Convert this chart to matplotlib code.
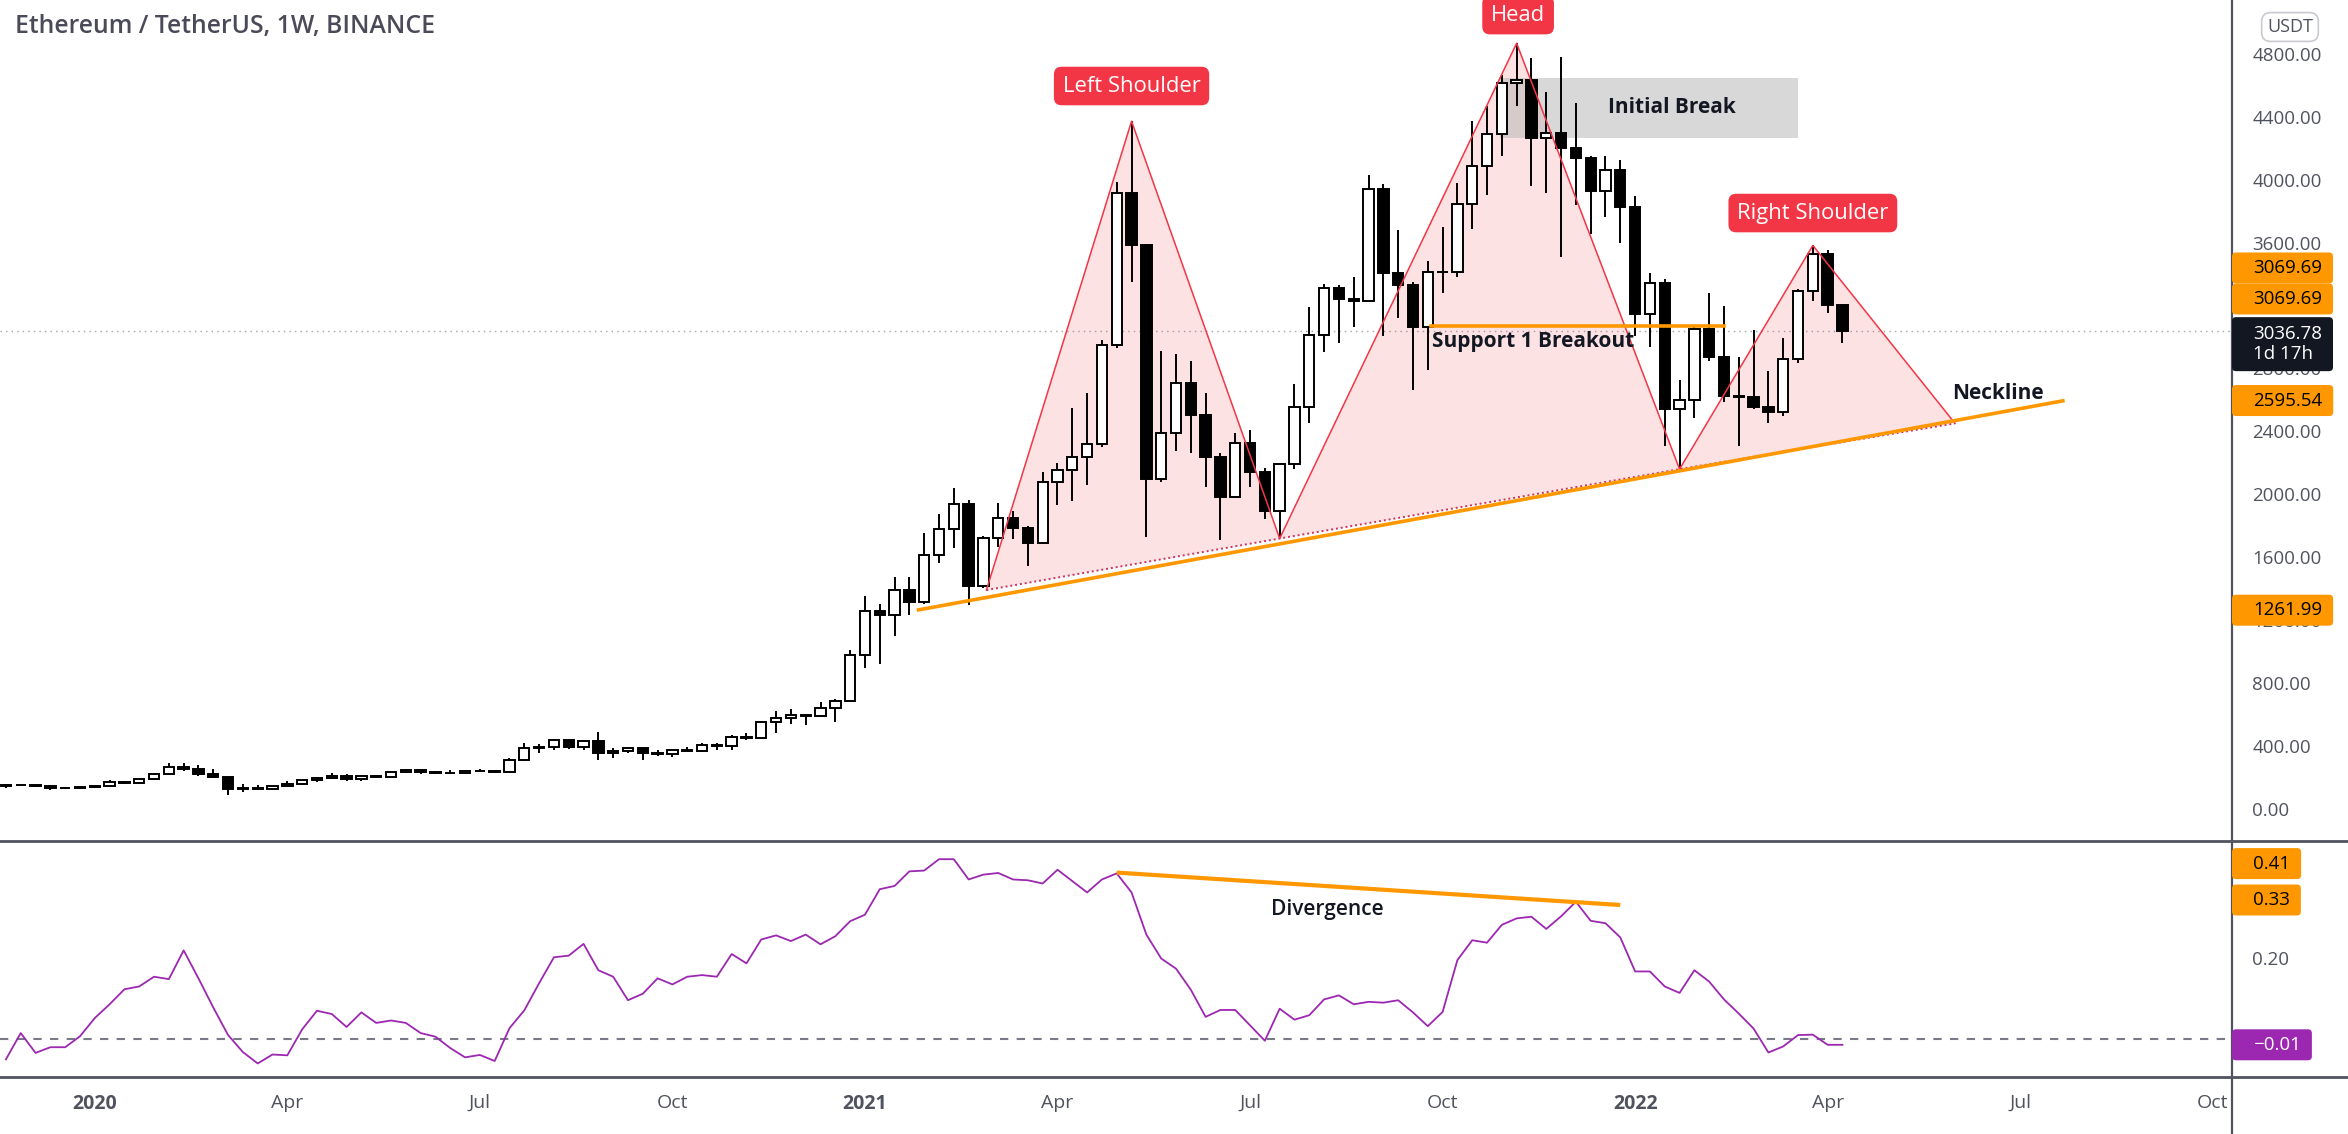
import pandas as pd
import matplotlib.pyplot as plt
import numpy as np
from matplotlib.lines import Line2D
from matplotlib.patches import FancyBboxPatch
import matplotlib.transforms as mtransforms

plt.rcParams["font.family"] = ["Open Sans", "DejaVu Sans"]

# weekly ETH/USDT candles, first week starts 2019-11-25
opens = [146, 151, 148, 142, 133, 134, 136, 146, 167, 160, 189, 223, 265, 250, 218, 200, 124, 131, 125, 143,
         158, 180, 197, 210, 188, 207, 203, 231, 244, 235, 229, 225, 241, 240, 236, 311, 386, 392, 434, 391,
         428, 353, 365, 384, 355, 346, 370, 368, 406, 396, 453, 447, 550, 575, 597, 590, 640, 685, 975, 1255,
         1232, 1391, 1314, 1614, 1781, 1935, 1417, 1724, 1848, 1785, 1690, 2080, 2155, 2239, 2319, 2950, 3913, 3586, 2096, 2387,
         2709, 2505, 2239, 1983, 2323, 2142, 1892, 2189, 2553, 3010, 3310, 3240, 3226, 3940, 3405, 3330, 3064, 3416, 3414, 3847,
         4085, 4290, 4614, 4632, 4267, 4296, 4199, 4135, 3926, 4063, 3829, 3148, 3343, 2542, 2599, 3053, 2871, 2622, 2617, 2554,
         2520, 2860, 3291, 3525, 3200]
highs = [155, 152, 151, 148, 136, 138, 148, 180, 170, 190, 229, 288, 287, 279, 253, 202, 154, 149, 148, 178,
         182, 199, 227, 217, 208, 215, 232, 253, 250, 240, 248, 242, 249, 243, 321, 415, 410, 445, 443, 435,
         488, 383, 395, 386, 370, 378, 395, 420, 415, 470, 478, 560, 623, 635, 600, 678, 694, 1011, 1350, 1300,
         1475, 1475, 1750, 1871, 2041, 1960, 1735, 1943, 1890, 1800, 2140, 2198, 2550, 2643, 2980, 3988, 4372, 3590, 2909, 2891,
         2846, 2643, 2262, 2387, 2410, 2165, 2200, 2700, 3190, 3335, 3330, 3380, 4030, 3970, 3677, 3350, 3484, 3700, 3979, 4373,
         4469, 4664, 4868, 4777, 4555, 4782, 4489, 4150, 4153, 4126, 3897, 3405, 3370, 2724, 3076, 3280, 3194, 2871, 3042, 2781,
         2996, 3302, 3582, 3552, 3210]
lows = [131, 143, 140, 117, 124, 126, 134, 142, 154, 158, 182, 220, 240, 209, 196, 86, 107, 122, 124, 139,
        150, 170, 190, 178, 175, 193, 199, 227, 218, 222, 217, 222, 236, 229, 232, 300, 355, 373, 377, 375,
        308, 322, 351, 308, 334, 331, 360, 360, 370, 372, 438, 444, 480, 539, 531, 580, 550, 677, 895, 920,
        1100, 1232, 1300, 1560, 1660, 1293, 1400, 1662, 1713, 1540, 1680, 1933, 1955, 2058, 2300, 2930, 3350, 1728, 2080, 2273,
        2262, 2046, 1706, 1975, 2046, 1842, 1718, 2160, 2450, 2905, 2960, 3065, 3220, 3007, 3121, 2660, 2792, 3280, 3382, 3688,
        3904, 4153, 4470, 3960, 3915, 3511, 3836, 3654, 3763, 3597, 3007, 2939, 2304, 2159, 2486, 2849, 2588, 2304, 2542, 2452,
        2500, 2837, 3226, 3155, 2962]
closes = [151, 148, 142, 133, 134, 136, 146, 167, 160, 189, 223, 265, 250, 218, 200, 124, 131, 125, 143, 158,
          180, 197, 210, 188, 207, 203, 231, 244, 235, 229, 225, 241, 240, 236, 311, 386, 392, 434, 391, 428,
          353, 365, 384, 355, 346, 370, 368, 406, 396, 453, 447, 550, 575, 597, 590, 640, 685, 975, 1255, 1232,
          1391, 1314, 1614, 1781, 1935, 1417, 1724, 1848, 1785, 1690, 2080, 2155, 2239, 2319, 2950, 3913, 3586, 2096, 2387, 2709,
          2505, 2239, 1983, 2323, 2142, 1892, 2189, 2553, 3010, 3310, 3240, 3226, 3940, 3405, 3330, 3064, 3416, 3414, 3847, 4085,
          4290, 4614, 4632, 4267, 4296, 4199, 4135, 3926, 4063, 3829, 3148, 3343, 2542, 2599, 3053, 2871, 2622, 2617, 2554, 2520,
          2860, 3291, 3525, 3200, 3036.78]

# lower pane oscillator, one value per week
osc = [-0.051, 0.014, -0.035, -0.021, -0.021, 0.006, 0.051, 0.085, 0.122, 0.129, 0.153, 0.147, 0.218, 0.149, 0.077,
       0.009, -0.033, -0.061, -0.039, -0.041, 0.023, 0.069, 0.061, 0.029, 0.065, 0.039, 0.045, 0.039, 0.014, 0.005,
       -0.023, -0.046, -0.040, -0.055, 0.026, 0.070, 0.137, 0.201, 0.205, 0.234, 0.169, 0.153, 0.095, 0.111, 0.149,
       0.134, 0.153, 0.157, 0.153, 0.209, 0.186, 0.245, 0.255, 0.241, 0.257, 0.233, 0.253, 0.290, 0.306, 0.369,
       0.377, 0.413, 0.415, 0.443, 0.443, 0.393, 0.405, 0.409, 0.393, 0.391, 0.383, 0.417, 0.389, 0.361, 0.393,
       0.408, 0.361, 0.257, 0.198, 0.173, 0.121, 0.054, 0.071, 0.071, 0.033, -0.005, 0.074, 0.047, 0.058, 0.097,
       0.107, 0.085, 0.091, 0.089, 0.095, 0.065, 0.031, 0.066, 0.194, 0.243, 0.237, 0.281, 0.297, 0.301, 0.271,
       0.302, 0.338, 0.291, 0.285, 0.250, 0.166, 0.166, 0.129, 0.113, 0.169, 0.141, 0.097, 0.062, 0.025, -0.034,
       -0.019, 0.009, 0.010, -0.015, -0.015]

# drawings (week index, value)
pattern_x = [66.2, 76, 86, 102, 113, 122, 131.6]
pattern_y = [1390, 4372, 1718, 4868, 2159, 3582, 2450]
neck_x = [61.5, 139.0]
neck_y = [1261.99, 2595.54]
support_x = [96.2, 116.0]
support_y = 3069.69
break_x = [100.9, 121.0]
break_y = [4265, 4648]
div_x = [75, 109]
div_y = [0.41, 0.33]

# price scale ticks (3200 sits fully under the stacked labels)
price_ticks = [0, 400, 800, 1200, 1600, 2000, 2400, 2800, 3600, 4000, 4400, 4800]
osc_ticks = [0.2]

weeks = pd.date_range("2019-11-25", periods=152, freq="W-MON")
x = np.arange(len(closes))

fig = plt.figure(figsize=(23.48, 11.34), dpi=100)
W, H = 2348, 1134
ax = fig.add_axes([0, 1 - 841 / H, 2232 / W, 841 / H])
ax2 = fig.add_axes([0, 1 - 1076 / H, 2232 / W, (1076 - 843) / H], sharex=ax)

for a in (ax, ax2):
    for s in a.spines.values():
        s.set_visible(False)
    a.yaxis.tick_right()
    a.tick_params(axis="y", length=0, pad=14.5, labelsize=13.5, labelcolor="#50535e")

ax.set_xlim(-0.4, 150.3)
ax.set_ylim(-206, 5143)
ax2.set_ylim(-0.092, 0.483)

ax.set_yticks(price_ticks)
ax.set_yticklabels([f"{v:.2f}" for v in price_ticks])
ax2.set_yticks(osc_ticks)
ax2.set_yticklabels([f"{v:.2f}" for v in osc_ticks])
ax.tick_params(axis="x", bottom=False, labelbottom=False)

# x ticks: first week of each quarter
tick_pos, tick_lab, tick_bold = [], [], []
for i in range(1, len(weeks)):
    d = weeks[i]
    if d.month in (1, 4, 7, 10) and weeks[i - 1].month != d.month:
        tick_pos.append(i)
        tick_lab.append(str(d.year) if d.month == 1 else d.strftime("%b"))
        tick_bold.append(d.month == 1)
ax2.set_xticks(tick_pos)
ax2.set_xticklabels(tick_lab)
ax2.tick_params(axis="x", length=0, pad=13, labelsize=14, labelcolor="#50535e")
for lab, b in zip(ax2.get_xticklabels(), tick_bold):
    if b:
        lab.set_fontweight("bold")

# last price dotted line
ax.axhline(closes[-1], color="#a0a3ab", lw=1, ls=(0, (1, 3)), zorder=1)

# pattern fill and lines
red = "#f23645"
for k in (0, 2, 4):
    ax.fill(pattern_x[k:k + 3], pattern_y[k:k + 3], color=red, alpha=0.14, lw=0, zorder=1)
ax.plot(pattern_x, pattern_y, color=red, lw=1.1, zorder=4)
base_x = [pattern_x[0], pattern_x[2], pattern_x[4], pattern_x[6]]
base_y = [pattern_y[0], pattern_y[2], pattern_y[4], pattern_y[6]]
ax.plot(base_x, base_y, color="#d0305a", lw=1.4, ls=(0, (1, 1.5)), zorder=4)

# initial break box
ax.fill_between(break_x, break_y[0], break_y[1], color="#b8b8b8", alpha=0.55, lw=0, zorder=1.5)
ax.text(112.5, np.mean(break_y), "Initial Break", ha="center", va="center",
        fontsize=15, fontweight="bold", color="#131722", zorder=6)

# candles
up = np.array(closes) >= np.array(opens)
body_lo = np.minimum(opens, closes)
body_h = np.abs(np.array(closes) - np.array(opens))
ax.vlines(x, lows, highs, color="black", lw=1.4, zorder=3)
ax.bar(x, body_h, bottom=body_lo, width=0.7, color=np.where(up, "white", "black"),
       edgecolor="black", linewidth=1.4, zorder=3.1)

# neckline and support
orange = "#ff9800"
ax.plot(neck_x, neck_y, color=orange, lw=2.6, solid_capstyle="butt", zorder=5)
ax.plot(support_x, [support_y, support_y], color=orange, lw=2.6, zorder=5)
ax.text(96.3, 2968, "Support 1 Breakout", ha="left", va="center",
        fontsize=15, fontweight="bold", color="#131722", zorder=6)
ax.text(131.4, 2640, "Neckline", ha="left", va="center",
        fontsize=15, fontweight="bold", color="#131722", zorder=6)

# shoulder / head tags
tag_box = dict(boxstyle="round,pad=0.4,rounding_size=0.35", fc=red, ec="none")
ax.text(76.0, 4596, "Left Shoulder", ha="center", va="center",
        fontsize=15.8, color="white", bbox=tag_box, zorder=7)
ax.text(102.1, 5047, "Head", ha="center", va="center",
        fontsize=15.8, color="white", bbox=tag_box, zorder=7)
ax.text(122.0, 3788, "Right Shoulder", ha="center", va="center",
        fontsize=15.8, color="white", bbox=tag_box, zorder=7)

# oscillator pane
ax2.axhline(0, color="#787b86", lw=1.5, ls=(0, (4, 4)), zorder=1)
ax2.plot(x, osc, color="#9c27b0", lw=1.3, zorder=3)
ax2.plot(div_x, div_y, color=orange, lw=3, solid_capstyle="butt", zorder=4)
ax2.text(89.2, 0.32, "Divergence", ha="center", va="center", fontsize=15,
         fontweight="semibold", color="#131722")

# price-scale labels drawn in pixel space
ident = mtransforms.IdentityTransform()
renderer = fig.canvas.get_renderer()
axis_px = 2232


def side_label(axis, value, text, face, ink, dy=0, height=31, top=None):
    yv = axis.transData.transform((0, value))[1]
    if top is None:
        y_top = yv + dy + height / 2
    else:
        y_top = yv + top
    t = fig.text(axis_px + 21, y_top - height / 2, text, transform=ident, ha="left", va="center",
                 fontsize=13.5, color=ink, linespacing=1.15, zorder=11)
    tw = t.get_window_extent(renderer).width
    box = FancyBboxPatch((axis_px, y_top - height), 21 + tw + 11, height, transform=ident,
                         boxstyle="round,pad=0,rounding_size=4", fc=face, ec="none", zorder=10)
    fig.add_artist(box)


side_label(ax, support_y, f"{support_y:.2f}", orange, "black", dy=58)
side_label(ax, support_y, f"{support_y:.2f}", orange, "black", dy=27)
side_label(ax, closes[-1], f"{closes[-1]:.2f}\n1d 17h", "#131722", "white", height=54, top=14)
side_label(ax, neck_y[1], f"{neck_y[1]:.2f}", orange, "black")
side_label(ax, neck_y[0], f"{neck_y[0]:.2f}", orange, "black")
side_label(ax2, div_y[0], f"{div_y[0]:.2f}", orange, "black", dy=9)
side_label(ax2, div_y[1], f"{div_y[1]:.2f}", orange, "black", dy=5)
side_label(ax2, osc[-1], f"{osc[-1]:.2f}".replace("-", "\u2212"), "#9c27b0", "white")

# pane separators and price scale border
sep = "#50535e"
fig.add_artist(Line2D([0, 1], [1 - 841 / H] * 2, color=sep, lw=2))
fig.add_artist(Line2D([0, 1], [1 - 1077 / H] * 2, color=sep, lw=2))
fig.add_artist(Line2D([2232 / W] * 2, [0, 1], color=sep, lw=1.6))

fig.text(15 / W, 1 - 27 / H, "Ethereum / TetherUS, 1W, BINANCE", ha="left", va="center",
         fontsize=17.8, fontweight="semibold", color="#4a4a58")
fig.text(2290 / W, 1 - 27 / H, "USDT", ha="center", va="center", fontsize=13, color="#50535e",
         bbox=dict(boxstyle="round,pad=0.3,rounding_size=0.5", fc="white", ec="#c8cad0", lw=1.2))

fig.savefig("out.png", dpi=100, facecolor="white")
